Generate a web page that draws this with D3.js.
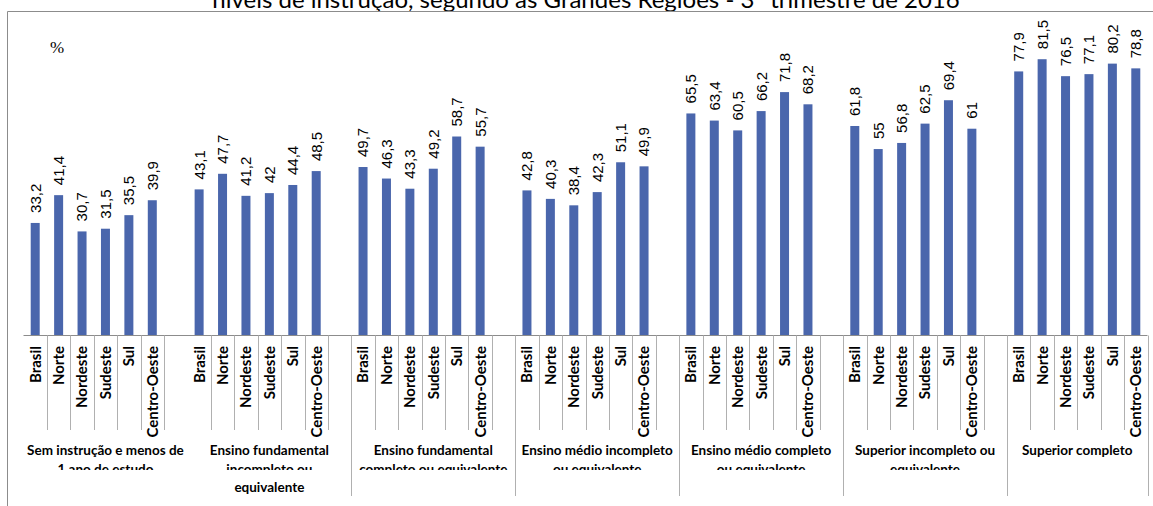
<!DOCTYPE html>
<html>
<head>
<meta charset="utf-8">
<script src="https://cdn.jsdelivr.net/npm/d3@7/dist/d3.min.js"></script>
<style>
  html, body { margin: 0; padding: 0; background: #fff; overflow: hidden; }
  svg { display: block; }
</style>
</head>
<body>
<svg id="chart" width="1153" height="506"></svg>
<script>
// ---- data ----
const titleText = "níveis de instrução, segundo as Grandes Regiões - 3º trimestre de 2016";
const unitLabel = "%";
const regions = ["Brasil", "Norte", "Nordeste", "Sudeste", "Sul", "Centro-Oeste"];
const levelLabels = [
  ["Sem instrução e menos de", "1 ano de estudo"],
  ["Ensino fundamental", "incompleto ou", "equivalente"],
  ["Ensino fundamental", "completo ou equivalente"],
  ["Ensino médio incompleto", "ou equivalente"],
  ["Ensino médio completo", "ou equivalente"],
  ["Superior incompleto ou", "equivalente"],
  ["Superior completo"]
];
const semInstrucao        = [33.2, 41.4, 30.7, 31.5, 35.5, 39.9];
const fundIncompleto      = [43.1, 47.7, 41.2, 42.0, 44.4, 48.5];
const fundCompleto        = [49.7, 46.3, 43.3, 49.2, 58.7, 55.7];
const medioIncompleto     = [42.8, 40.3, 38.4, 42.3, 51.1, 49.9];
const medioCompleto       = [65.5, 63.4, 60.5, 66.2, 71.8, 68.2];
const superiorIncompleto  = [61.8, 55.0, 56.8, 62.5, 69.4, 61.0];
const superiorCompleto    = [77.9, 81.5, 76.5, 77.1, 80.2, 78.8];
const seriesByLevel = [semInstrucao, fundIncompleto, fundCompleto, medioIncompleto,
                       medioCompleto, superiorIncompleto, superiorCompleto];

// ---- build slots (6 regions + 1 blank per level, last level without blank) ----
const slots = [];
seriesByLevel.forEach((vals, g) => {
  regions.forEach((r, i) => slots.push({key: g + "-" + i, group: g, region: r, value: vals[i], blank: false}));
  if (g < seriesByLevel.length - 1) slots.push({key: g + "-blank", group: g, blank: true});
});

const svg = d3.select("#chart");
const baseY = 335.5;
const x = d3.scaleBand().domain(slots.map(d => d.key)).range([23.5, 1147.5]).padding(0);
const y = d3.scaleLinear().domain([0, 100]).range([baseY, -3.5]);
const barW = 9;
const gray = "#8c8c8c";
const barColor = "#4a66ac";
const fontBold = "Lato, 'Open Sans', sans-serif";
const fontVal = "'Liberation Sans', Arial, sans-serif";
const fmt = v => String(v).replace(".", ",");

// title (partially cropped at the top, as in the reference)
svg.append("text")
  .attr("x", 586).attr("y", 8)
  .attr("text-anchor", "middle")
  .attr("font-family", fontBold)
  .attr("font-size", 24)
  .attr("fill", "#000")
  .text(titleText);

// chart frame
svg.append("line").attr("x1", 7.5).attr("x2", 1153).attr("y1", 11.5).attr("y2", 11.5)
  .attr("stroke", gray).attr("stroke-width", 1);
svg.append("line").attr("x1", 7.5).attr("x2", 7.5).attr("y1", 11.5).attr("y2", 506)
  .attr("stroke", gray).attr("stroke-width", 1);

// unit label
svg.append("text").attr("x", 57).attr("y", 53)
  .attr("text-anchor", "middle")
  .attr("font-family", "'Liberation Serif', 'Times New Roman', serif")
  .attr("font-size", 17)
  .text(unitLabel);

// bars
const data = slots.filter(d => !d.blank);
svg.append("g").selectAll("rect").data(data).join("rect")
  .attr("x", d => x(d.key) + x.bandwidth() / 2 - barW / 2)
  .attr("width", barW)
  .attr("y", d => y(d.value))
  .attr("height", d => y(0) - y(d.value))
  .attr("fill", barColor);

// value labels
svg.append("g").selectAll("text").data(data).join("text")
  .attr("transform", d => `translate(${x(d.key) + x.bandwidth() / 2},${y(d.value) - 10}) rotate(-90)`)
  .attr("dy", "0.36em")
  .attr("text-anchor", "start")
  .attr("font-family", fontVal)
  .attr("font-size", 15)
  .attr("fill", "#000")
  .text(d => fmt(d.value));

// baseline axis
svg.append("line").attr("x1", x.range()[0]).attr("x2", x.range()[1])
  .attr("y1", baseY).attr("y2", baseY).attr("stroke", gray).attr("stroke-width", 1);

// ticks at right edge of each slot
svg.append("g").selectAll("line").data(slots.filter(d => !(d.blank && d.group === 0))).join("line")
  .attr("x1", d => Math.round(x(d.key) + x.bandwidth()) + 0.5)
  .attr("x2", d => Math.round(x(d.key) + x.bandwidth()) + 0.5)
  .attr("y1", baseY)
  .attr("y2", d => (d.blank || d.key === slots[slots.length - 1].key) ? 496 : 430)
  .attr("stroke", "#b0b0b0").attr("stroke-width", 1);

// region labels
svg.append("g").selectAll("text").data(data).join("text")
  .attr("transform", d => `translate(${x(d.key) + x.bandwidth() / 2},346) rotate(-90)`)
  .attr("dy", "0.36em")
  .attr("text-anchor", "end")
  .attr("font-family", fontBold)
  .attr("font-weight", "bold")
  .attr("font-size", 15)
  .attr("fill", "#000")
  .text(d => d.region);

// level labels (second line partly clipped as in reference)
const defs = svg.append("defs");
const clip = defs.append("clipPath").attr("id", "lvlclip");
clip.append("rect").attr("x", 0).attr("y", 0).attr("width", 1153).attr("height", 470);
clip.append("rect").attr("x", 0).attr("y", 479).attr("width", 1153).attr("height", 30);

const lvl = svg.append("g").attr("clip-path", "url(#lvlclip)");
levelLabels.forEach((lines, g) => {
  const gs = slots.filter(d => d.group === g);
  const x0 = x(gs[0].key), x1 = x(gs[gs.length - 1].key) + x.bandwidth();
  const cx = (x0 + x1) / 2;
  const t = lvl.append("text")
    .attr("text-anchor", "middle")
    .attr("font-family", fontBold)
    .attr("font-weight", "bold")
    .attr("font-size", 13.5)
    .attr("fill", "#000");
  t.selectAll("tspan").data(lines).join("tspan")
    .attr("x", cx)
    .attr("y", (d, i) => 455 + i * 18.5)
    .text(d => d);
});
</script>
</body>
</html>
